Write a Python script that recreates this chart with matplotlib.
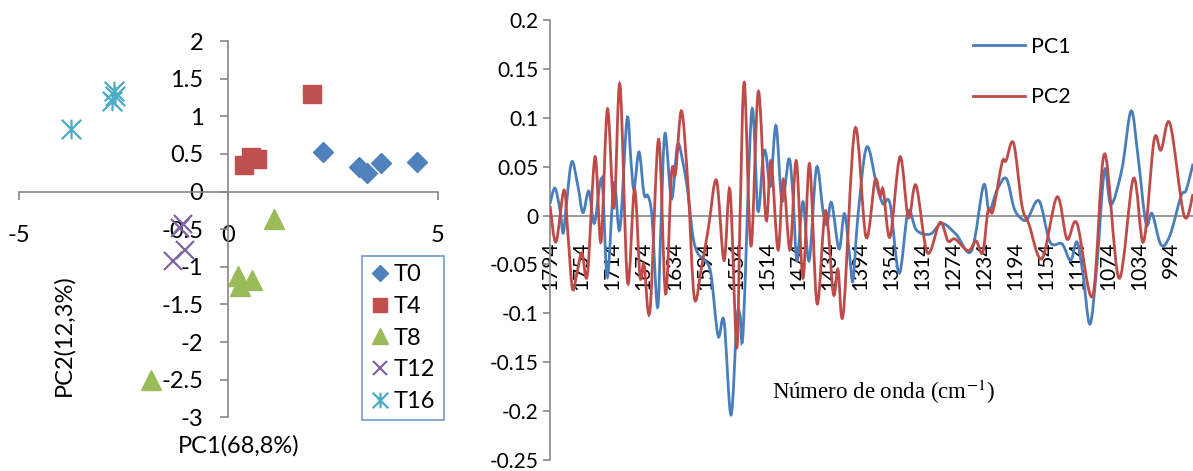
import numpy as np
import matplotlib
matplotlib.use("Agg")
import matplotlib.pyplot as plt
from matplotlib.path import Path
from matplotlib.patches import PathPatch
from matplotlib.lines import Line2D

plt.rcParams['font.family'] = ['Lato', 'DejaVu Sans']
plt.rcParams['mathtext.fontset'] = 'stix'

# ---- left chart: PCA scores ----
t0_x = [2.27, 3.13, 3.32, 3.64, 4.51]
t0_y = [0.53, 0.33, 0.25, 0.38, 0.39]
t4_x = [2.00, 0.38, 0.55, 0.68]
t4_y = [1.30, 0.35, 0.46, 0.43]
t8_x = [1.10, 0.22, 0.27, 0.57, -1.85]
t8_y = [-0.36, -1.12, -1.26, -1.18, -2.50]
t12_x = [-1.09, -1.16, -1.04, -1.32]
t12_y = [-0.43, -0.48, -0.78, -0.92]
t16_x = [-3.76, -2.73, -2.77, -2.71]
t16_y = [0.83, 1.34, 1.20, 1.27]

# ---- right chart: loadings vs wavenumber ----
wn_pc1 = [1794, 1787.6, 1781, 1777, 1773, 1766, 1758, 1751.5, 1744, 1737,
          1729.5, 1726, 1720, 1711.5, 1704, 1694.7, 1689.6, 1685.7, 1679.3, 1672.8,
          1667.7, 1662.5, 1655.4, 1651, 1645.8, 1637.4, 1629.7, 1622.6, 1616, 1609.7,
          1603.2, 1594.2, 1586.5, 1577.4, 1569.7, 1560.7, 1553, 1549, 1545, 1534,
          1526, 1519.4, 1515.6, 1509.8, 1502.7, 1495, 1486, 1480.8, 1475.6, 1468,
          1460, 1450.5, 1442, 1437, 1431, 1421.5, 1414.4, 1407.3, 1403.4, 1397,
          1385.8, 1372.9, 1364.8, 1355.7, 1344, 1332.5, 1321.6, 1304, 1288.7, 1270.7,
          1250.7, 1235.2, 1228, 1217.8, 1206, 1196, 1188, 1179, 1163.7, 1149.5,
          1134, 1123, 1114.7, 1107, 1098, 1089, 1079.3, 1071, 1056.7, 1045,
          1036, 1025.8, 1018, 1006.4, 994.8, 980.6, 974, 965.2]
pc1 = [0.012, 0.028, 0.005, -0.018, 0.010, 0.055, 0.030, 0.003, 0.025, -0.008,
       0.033, 0.028, -0.063, 0.033, -0.014, 0.099, 0.055, 0.027, 0.065, 0.022,
       0.020, -0.002, -0.094, -0.010, 0.084, 0.017, 0.072, 0.054, 0.022, -0.022,
       -0.039, -0.046, -0.060, -0.123, -0.108, -0.204, -0.105, -0.102, -0.118, 0.107,
       0.005, 0.060, 0.063, 0.030, 0.092, 0.015, 0.058, 0.020, -0.046, 0.014,
       -0.046, 0.049, 0.004, -0.009, 0.013, -0.034, 0.002, -0.045, -0.066, 0.000,
       0.070, 0.031, 0.012, 0.012, -0.059, 0.004, -0.015, -0.019, -0.008, -0.019,
       -0.036, 0.031, 0.005, 0.026, 0.038, 0.008, -0.002, -0.004, 0.015, -0.027,
       -0.029, -0.046, -0.027, -0.060, -0.111, -0.050, 0.046, 0.011, 0.048, 0.107,
       0.060, -0.008, 0.002, -0.030, -0.020, 0.020, 0.026, 0.053]

wn_pc2 = [1794, 1786.3, 1776, 1770.8, 1765, 1758.6, 1752.8, 1745.7, 1736, 1728.3,
          1720, 1711.5, 1703.8, 1694.1, 1685.1, 1678, 1672.8, 1665.1, 1654.1, 1645.1,
          1637.4, 1632.2, 1624.5, 1616.1, 1608, 1598.7, 1589.7, 1579.4, 1569.7, 1562,
          1553.3, 1549, 1543.5, 1534.9, 1525.5, 1515.6, 1509.1, 1500.1, 1493.3, 1484.6,
          1476.5, 1467.9, 1459.5, 1449.8, 1438.9, 1428.8, 1422.8, 1415.9, 1400.9, 1386.7,
          1375.1, 1368.6, 1364.4, 1355.7, 1342.9, 1332.1, 1322.2, 1307.6, 1291.3, 1281,
          1272, 1254.8, 1244.9, 1236.2, 1229.4, 1223, 1211.4, 1206.2, 1196.5, 1185.6,
          1176.6, 1159.8, 1140.5, 1127.6, 1114.7, 1094.5, 1079.3, 1060.6, 1041.9, 1029,
          1015.4, 1006.4, 994.8, 976.7, 965.2]
pc2 = [0.010, -0.027, 0.026, -0.020, -0.075, -0.056, -0.038, -0.060, 0.060, -0.027,
       0.109, 0.008, 0.134, -0.068, 0.027, -0.062, -0.050, -0.097, 0.078, -0.080,
       0.043, 0.043, 0.107, 0.030, -0.084, -0.053, -0.012, 0.036, -0.046, 0.026,
       -0.135, 0.000, 0.136, -0.031, 0.127, -0.004, 0.056, -0.035, 0.037, -0.035,
       0.056, -0.064, 0.053, -0.090, 0.005, -0.080, -0.055, -0.100, 0.089, -0.022,
       0.036, 0.020, 0.026, -0.022, 0.060, -0.002, 0.031, -0.038, -0.007, -0.026,
       -0.024, -0.036, -0.026, -0.038, 0.005, 0.005, 0.054, 0.056, 0.074, 0.010,
       -0.009, -0.044, 0.019, -0.024, -0.008, -0.082, 0.063, -0.064, 0.038, -0.027,
       0.077, 0.067, 0.094, 0.000, 0.022]

wn_labels = list(range(1794, 993, -40))
wn_ticks = [1794, 1594, 1394, 1194, 994]

grey = '#868686'
W, H = 1193, 471


def smooth_path(xs, ys):
    # Excel-style smoothed line (Catmull-Rom as cubic Bezier)
    p = np.column_stack([xs, ys]).astype(float)
    n = len(p)
    verts = [p[0]]
    codes = [Path.MOVETO]
    for i in range(n - 1):
        a = p[i - 1] if i > 0 else p[i]
        d = p[i + 2] if i + 2 < n else p[i + 1]
        verts += [p[i] + (p[i + 1] - a) / 6, p[i + 1] - (d - p[i]) / 6, p[i + 1]]
        codes += [Path.CURVE4] * 3
    return Path(verts, codes)


def fmt(v):
    v = round(float(v), 2) + 0.0
    return f'{v:g}'


fig = plt.figure(figsize=(W / 100, H / 100), dpi=100)


def px_axes(l, t, r, b):
    return fig.add_axes([l / W, 1 - b / H, (r - l) / W, (b - t) / H])


# ---------- left: score plot ----------
ax1 = px_axes(19, 41, 437.7, 417.3)
ax1.set_xlim(-5, 5)
ax1.set_ylim(-3, 2)
for s in ['top', 'right']:
    ax1.spines[s].set_visible(False)
for s in ['left', 'bottom']:
    ax1.spines[s].set_position(('data', 0))
    ax1.spines[s].set_color(grey)
    ax1.spines[s].set_linewidth(1.2)
ax1.set_xticks([-5, 0, 5])
ax1.set_xticklabels(['-5', '0', '5'])
yt = np.arange(-3, 2.01, 0.5)
ax1.set_yticks(yt)
ax1.set_yticklabels([fmt(v) for v in yt])
ax1.tick_params(axis='x', direction='out', length=6, width=1.2, color=grey, pad=18, labelsize=17)
ax1.tick_params(axis='y', direction='out', length=6, width=1.2, color=grey, pad=12, labelsize=17)

star = Path([(-1, -1), (1, 1), (-1, 1), (1, -1), (0, -1), (0, 1)],
            [Path.MOVETO, Path.LINETO, Path.MOVETO, Path.LINETO, Path.MOVETO, Path.LINETO])

ax1.plot(t0_x, t0_y, ls='none', marker='D', ms=10, color='#4F81BD', label='T0', clip_on=False)
ax1.plot(t4_x, t4_y, ls='none', marker='s', ms=13, color='#C0504D', label='T4', clip_on=False)
ax1.plot(t8_x, t8_y, ls='none', marker='^', ms=14, color='#9BBB59', label='T8', clip_on=False)
ax1.plot(t12_x, t12_y, ls='none', marker='x', ms=13, mew=1.6, color='#8064A2', label='T12', clip_on=False)
ax1.plot(t16_x, t16_y, ls='none', marker=star, ms=14, mew=1.6, color='#4BACC6', label='T16', clip_on=False)

leg1 = ax1.legend(loc='upper left', bbox_to_anchor=(362 / W, 1 - 256 / H),
                  bbox_transform=fig.transFigure, borderaxespad=0, fancybox=False,
                  fontsize=17, markerscale=0.8, handlelength=0.8, handletextpad=0.2,
                  borderpad=0.35, labelspacing=0.45)
leg1.get_frame().set_edgecolor('#4F81BD')
leg1.get_frame().set_linewidth(1.2)

fig.text(64 / W, 1 - 335 / H, 'PC2(12,3%)', rotation=90, ha='center', va='center', fontsize=17)
fig.text(239 / W, 1 - 446 / H, 'PC1(68,8%)', ha='center', va='center', fontsize=17)

# ---------- right: loadings ----------
ax2 = px_axes(550, 20, 1193, 460)
ax2.set_xlim(1794, 965.2)
ax2.set_ylim(-0.25, 0.2)
for s in ['top', 'right']:
    ax2.spines[s].set_visible(False)
ax2.spines['bottom'].set_position(('data', 0))
for s in ['left', 'bottom']:
    ax2.spines[s].set_color(grey)
    ax2.spines[s].set_linewidth(1.2)

ax2.add_patch(PathPatch(smooth_path(wn_pc1, pc1), fill=False, edgecolor='#4A7EBB', lw=2, zorder=3))
ax2.add_patch(PathPatch(smooth_path(wn_pc2, pc2), fill=False, edgecolor='#BE4B48', lw=2, zorder=3))

yt2 = np.arange(-0.25, 0.201, 0.05)
ax2.set_yticks(yt2)
ax2.set_yticklabels([fmt(v) for v in yt2])
ax2.tick_params(axis='y', direction='out', length=5, width=1.2, color=grey, pad=3, labelsize=15)
ax2.set_xticks(wn_labels)
ax2.set_xticklabels([str(v) for v in wn_labels], rotation=90)
ax2.set_xticks(wn_ticks, minor=True)
ax2.tick_params(axis='x', which='major', length=0, pad=19, labelsize=15)
ax2.tick_params(axis='x', which='minor', direction='out', length=6, width=1.2, color=grey)

handles = [Line2D([], [], color='#4A7EBB', lw=2), Line2D([], [], color='#BE4B48', lw=2)]
ax2.legend(handles, ['PC1', 'PC2'], loc='upper left', bbox_to_anchor=(973 / W, 1 - 37 / H),
           bbox_transform=fig.transFigure, frameon=False, borderaxespad=0, borderpad=0,
           fontsize=15.5, handlelength=2.4, handletextpad=0.3, labelspacing=1.4)

fig.text(883 / W, 1 - 392 / H, 'Número de onda (cm$^{\\mathrm{-1}}$)', family='Liberation Serif',
         ha='center', va='center', fontsize=16.5)

fig.savefig('out.png', dpi=100)
